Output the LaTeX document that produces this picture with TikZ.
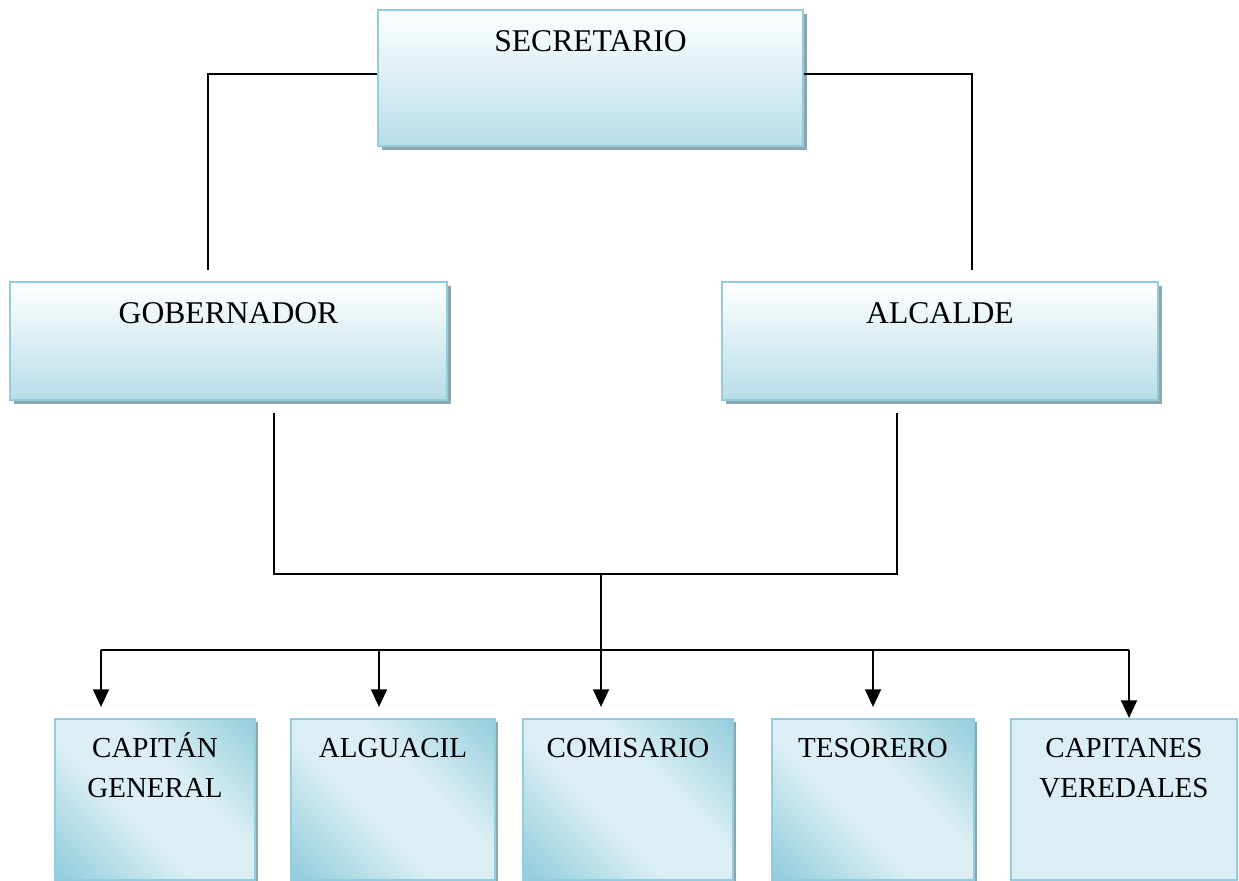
\documentclass[tikz,border=0pt]{standalone}
\usepackage{fontspec}
\setmainfont{Liberation Serif}
\usetikzlibrary{arrows.meta,shadows}
\definecolor{boxedge}{HTML}{93CDDD}
\definecolor{boxdark}{HTML}{93CDDD}
\definecolor{boxlight}{HTML}{DAEEF3}
\definecolor{boxbottom}{HTML}{B7DDE8}
\definecolor{boxshadow}{HTML}{8BA6AF}
\pgfdeclarehorizontalshading{diagblue}{100bp}{color(0bp)=(boxdark); color(16bp)=(boxdark);
 color(42bp)=(boxlight); color(60bp)=(boxlight); color(86bp)=(boxdark); color(100bp)=(boxdark)}

\begin{document}
\begin{tikzpicture}[x=0.02cm, y=-0.02cm,
  headbox/.style={draw=boxedge, line width=1.2pt, top color=white, bottom color=boxbottom,
    drop shadow={shadow xshift=2.3pt, shadow yshift=-2.3pt, fill=boxshadow, opacity=1},
    inner sep=0pt, font=\fontsize{18}{22}\selectfont},
  flatbox/.style={draw=boxedge, line width=1.2pt, fill=boxlight, inner sep=0pt, align=center,
    minimum height=3.22cm, text height=0.76cm, text depth=2.46cm,
    font=\fontsize{16.5}{22.7}\selectfont},
  twoline/.style={text height=1.56cm, text depth=1.66cm},
  unitbox/.style={flatbox, shading=diagblue, shading angle=45,
    drop shadow={shadow xshift=1.8pt, shadow yshift=-1.5pt, fill=boxshadow, opacity=1}},
  joint/.style={line width=0.9pt},
  bus/.style={line width=1.2pt}]
\useasboundingbox (0,0) rectangle (1239,881);

\node [headbox, minimum width=8.5cm, text height=0.84cm, text depth=1.88cm] (sec) at (590.5,78) {SECRETARIO};
\node [headbox, minimum width=8.74cm, text height=0.82cm, text depth=1.54cm] (gob) at (228.5,341) {GOBERNADOR};
\node [headbox, minimum width=8.72cm, text height=0.82cm, text depth=1.54cm] (alc) at (940,341) {ALCALDE};

\node [unitbox, twoline, minimum width=4cm] (cap) at (155,799.5) {CAPITÁN\\GENERAL};
\node [unitbox, minimum width=4.08cm] (alg) at (393,799.5) {ALGUACIL};
\node [unitbox, minimum width=4.2cm] (com) at (628,799.5) {COMISARIO};
\node [unitbox, minimum width=4.04cm] (tes) at (873,799.5) {TESORERO};
\node [flatbox, twoline, minimum width=4.52cm] (ver) at (1124,799.5) {CAPITANES\\VEREDALES};

% top level
\coordinate (secl) at (208,270);
\coordinate (secr) at (972,270);
\draw [joint] ([yshift=0.08cm]sec.west) -| (secl);
\draw [joint] ([yshift=0.08cm]sec.east) -| (secr);

% middle level
\coordinate (gobl) at (274,413);
\coordinate (alcl) at (897,413);
\coordinate (mid) at (601,574);
\coordinate (fork) at (601,650);
\draw [joint] (gobl) -- (gobl |- mid) -- (alcl |- mid) -- (alcl);
\draw [joint] (mid) -- (fork);

% bottom level
\coordinate (busl) at (101,650);
\coordinate (busr) at (1129,650);
\draw [bus] (busl) -- (busr);
\foreach \n/\x in {cap/101, alg/379, com/601, tes/873}
  \draw [bus, -{Triangle[width=9pt, length=10pt]}] (\x,650) -- ([yshift=0.22cm]\x,650 |- \n.north);
\draw [bus, -{Triangle[width=9pt, length=10pt]}] (busr) -- (busr |- ver.north);
\end{tikzpicture}
\end{document}
